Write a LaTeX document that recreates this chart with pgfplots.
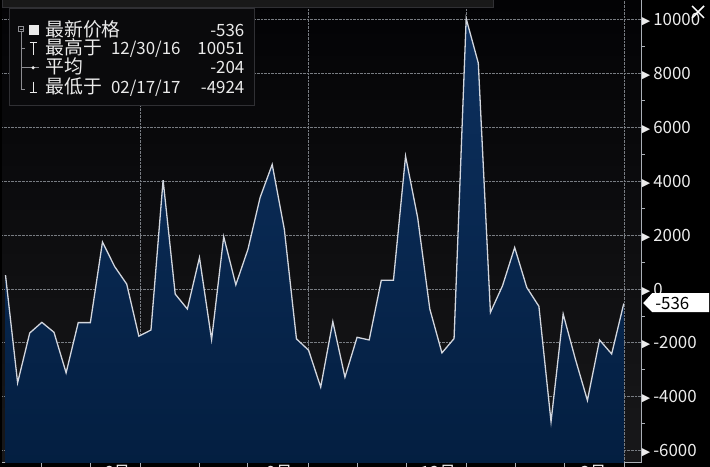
\documentclass[border=0pt]{standalone}
\usepackage{fontspec}
\setmainfont{Noto Sans CJK SC}
\newfontfamily\dejavu{DejaVu Sans}
\usepackage{xcolor}
\usepackage{pgfplots}
\pgfplotsset{compat=1.18}
\usepgfplotslibrary{fillbetween}
\usepackage{pgfplotstable}

\definecolor{bgtop}{RGB}{3,3,5}
\definecolor{bgbot}{RGB}{24,24,26}
\definecolor{areatop}{RGB}{13,48,94}
\definecolor{areabot}{RGB}{3,30,64}
\definecolor{linec}{RGB}{210,214,222}
\definecolor{gridc}{RGB}{120,124,130}
\definecolor{axisc}{RGB}{170,175,182}
\definecolor{legbg}{RGB}{10,10,12}
\definecolor{legbd}{RGB}{48,48,52}
\definecolor{treec}{RGB}{140,140,145}
\definecolor{txt}{RGB}{235,235,235}

% weekly values, index 0 = first week
\pgfplotstableread{
i v
0 520
1 -3480
2 -1630
3 -1235
4 -1605
5 -3110
6 -1245
7 -1245
8 1750
9 840
10 185
11 -1750
12 -1520
13 4050
14 -185
15 -740
16 1170
17 -1875
18 1950
19 160
20 1480
21 3400
22 4630
23 2220
24 -1850
25 -2270
26 -3640
27 -1210
28 -3270
29 -1790
30 -1890
31 330
32 330
33 4940
34 2650
35 -740
36 -2370
37 -1840
38 10051
39 8400
40 -865
41 125
42 1545
43 60
44 -640
45 -4924
46 -925
47 -2590
48 -4135
49 -1890
50 -2410
51 -536
}\spread

\newcommand{\fs}{\fontsize{17}{20}\selectfont}
\newcommand{\cj}{\fontsize{19}{20}\selectfont}
\newcommand{\tri}{\raisebox{1bp}{\dejavu\fontsize{11}{11}\selectfont ▶}\hspace{3bp}}

\begin{document}
\pagecolor{black}
\begin{tikzpicture}[x=1bp,y=1bp]
\path (0,0) rectangle (710,468);

\begin{axis}[
    at={(0bp,4bp)}, anchor=south west,
    scale only axis, width=641bp, height=464bp,
    xmin=-0.27, xmax=52.44,
    ymin=-6444, ymax=10741,
    axis x line*=bottom, axis y line*=right,
    axis line style={axisc, line width=1bp, -},
    axis background/.style={top color=bgtop, bottom color=bgbot},
    ytick={-6000,-4000,...,10000},
    yticklabels={\tri-6000,\tri-4000,\tri-2000,\tri 0,\tri 2000,\tri 4000,\tri 6000,\tri 8000,\tri 10000},
    minor ytick={-5000,-3000,...,9000},
    ymajorgrids,
    grid style={gridc, densely dotted, line width=0.9bp},
    xtick={9.2,22.6,35.7,48.5},
    xticklabels={6月,9月,12月,3月},
    minor xtick={3,7.05,11.1,16,20,25,29,33.1,38.05,42.1,46.1,51.05},
    extra x ticks={11.1,25,38.05,51.05},
    extra x tick labels={},
    extra x tick style={grid=major, major tick length=0pt},
    major tick length=0pt, minor tick length=4bp,
    tick align=outside,
    tick style={axisc, line width=1bp},
    yticklabel style={anchor=west, inner sep=0pt, xshift=0.5bp},
    xticklabel style={anchor=north, inner sep=0pt, yshift=-2bp},
    ticklabel style={font=\fontsize{17}{17}\selectfont, text=txt},
    /pgf/number format/assume math mode=true,
]
\addplot[draw=none, name path=curve] table[x=i, y=v] {\spread};
\addplot[draw=none, name path=base] coordinates {(0,-7000) (51,-7000)};
\addplot[draw=none, top color=areatop, bottom color=areabot] fill between[of=curve and base];
\addplot[linec, line width=1.3bp] table[x=i, y=v] {\spread};
\end{axis}

% thin toolbar strip at the top
\filldraw[fill=black!90!white, draw=legbd, line width=0.8bp] (0,461) rectangle (493,470);

% legend box
\filldraw[fill=legbg, draw=legbd, line width=1bp] (7,459) rectangle (253,362);
\begin{scope}[every node/.style={inner sep=0pt, text=txt, font=\fs}]
\node[anchor=base west, font=\cj] at (43,431.5) {最新价格};
\node[anchor=base east] at (243,431.5) {-536};
\node[anchor=base west, font=\cj] at (43,413) {最高于};
\node[anchor=base west] at (109,413) {12/30/16};
\node[anchor=base east] at (243,413) {10051};
\node[anchor=base west, font=\cj] at (43,394) {平均};
\node[anchor=base east] at (243,394) {-204};
\node[anchor=base west, font=\cj] at (43,374) {最低于};
\node[anchor=base west] at (109,374) {02/17/17};
\node[anchor=base east] at (243,374) {-4924};
\end{scope}
% tree
\draw[treec, line width=0.8bp] (16.7,436) rectangle (21.7,442);
\draw[treec, line width=0.8bp] (17.7,439) -- (20.7,439);
\draw[treec, line width=0.8bp] (19.2,436) -- (19.2,378) -- (23,378);
\draw[treec, line width=0.8bp] (19.2,419) -- (23,419);
\fill[txt] (27,433) rectangle (37,443);
\draw[txt, line width=1bp] (27.5,425) -- (34.5,425) (31,425) -- (31,413);
\draw[treec, line width=1bp] (19.2,400) -- (37,400);
\fill[txt] (31,400) circle (1.8);
\draw[txt, line width=1bp] (31,386) -- (31,375.5) (27.5,375.5) -- (34.5,375.5);

% close cross
\draw[white, line width=1.5bp] (692,462) -- (704,450) (692,450) -- (704,462);

% last value callout
\fill[white] (643,164) -- (652,174) -- (709,174) -- (709,155) -- (652,155) -- cycle;
\node[anchor=west, inner sep=0pt, text=black, font=\fontsize{17}{17}\selectfont] at (655,164) {-536};

\pgfresetboundingbox
\useasboundingbox (0,0) rectangle (710,468);
\end{tikzpicture}
\end{document}
